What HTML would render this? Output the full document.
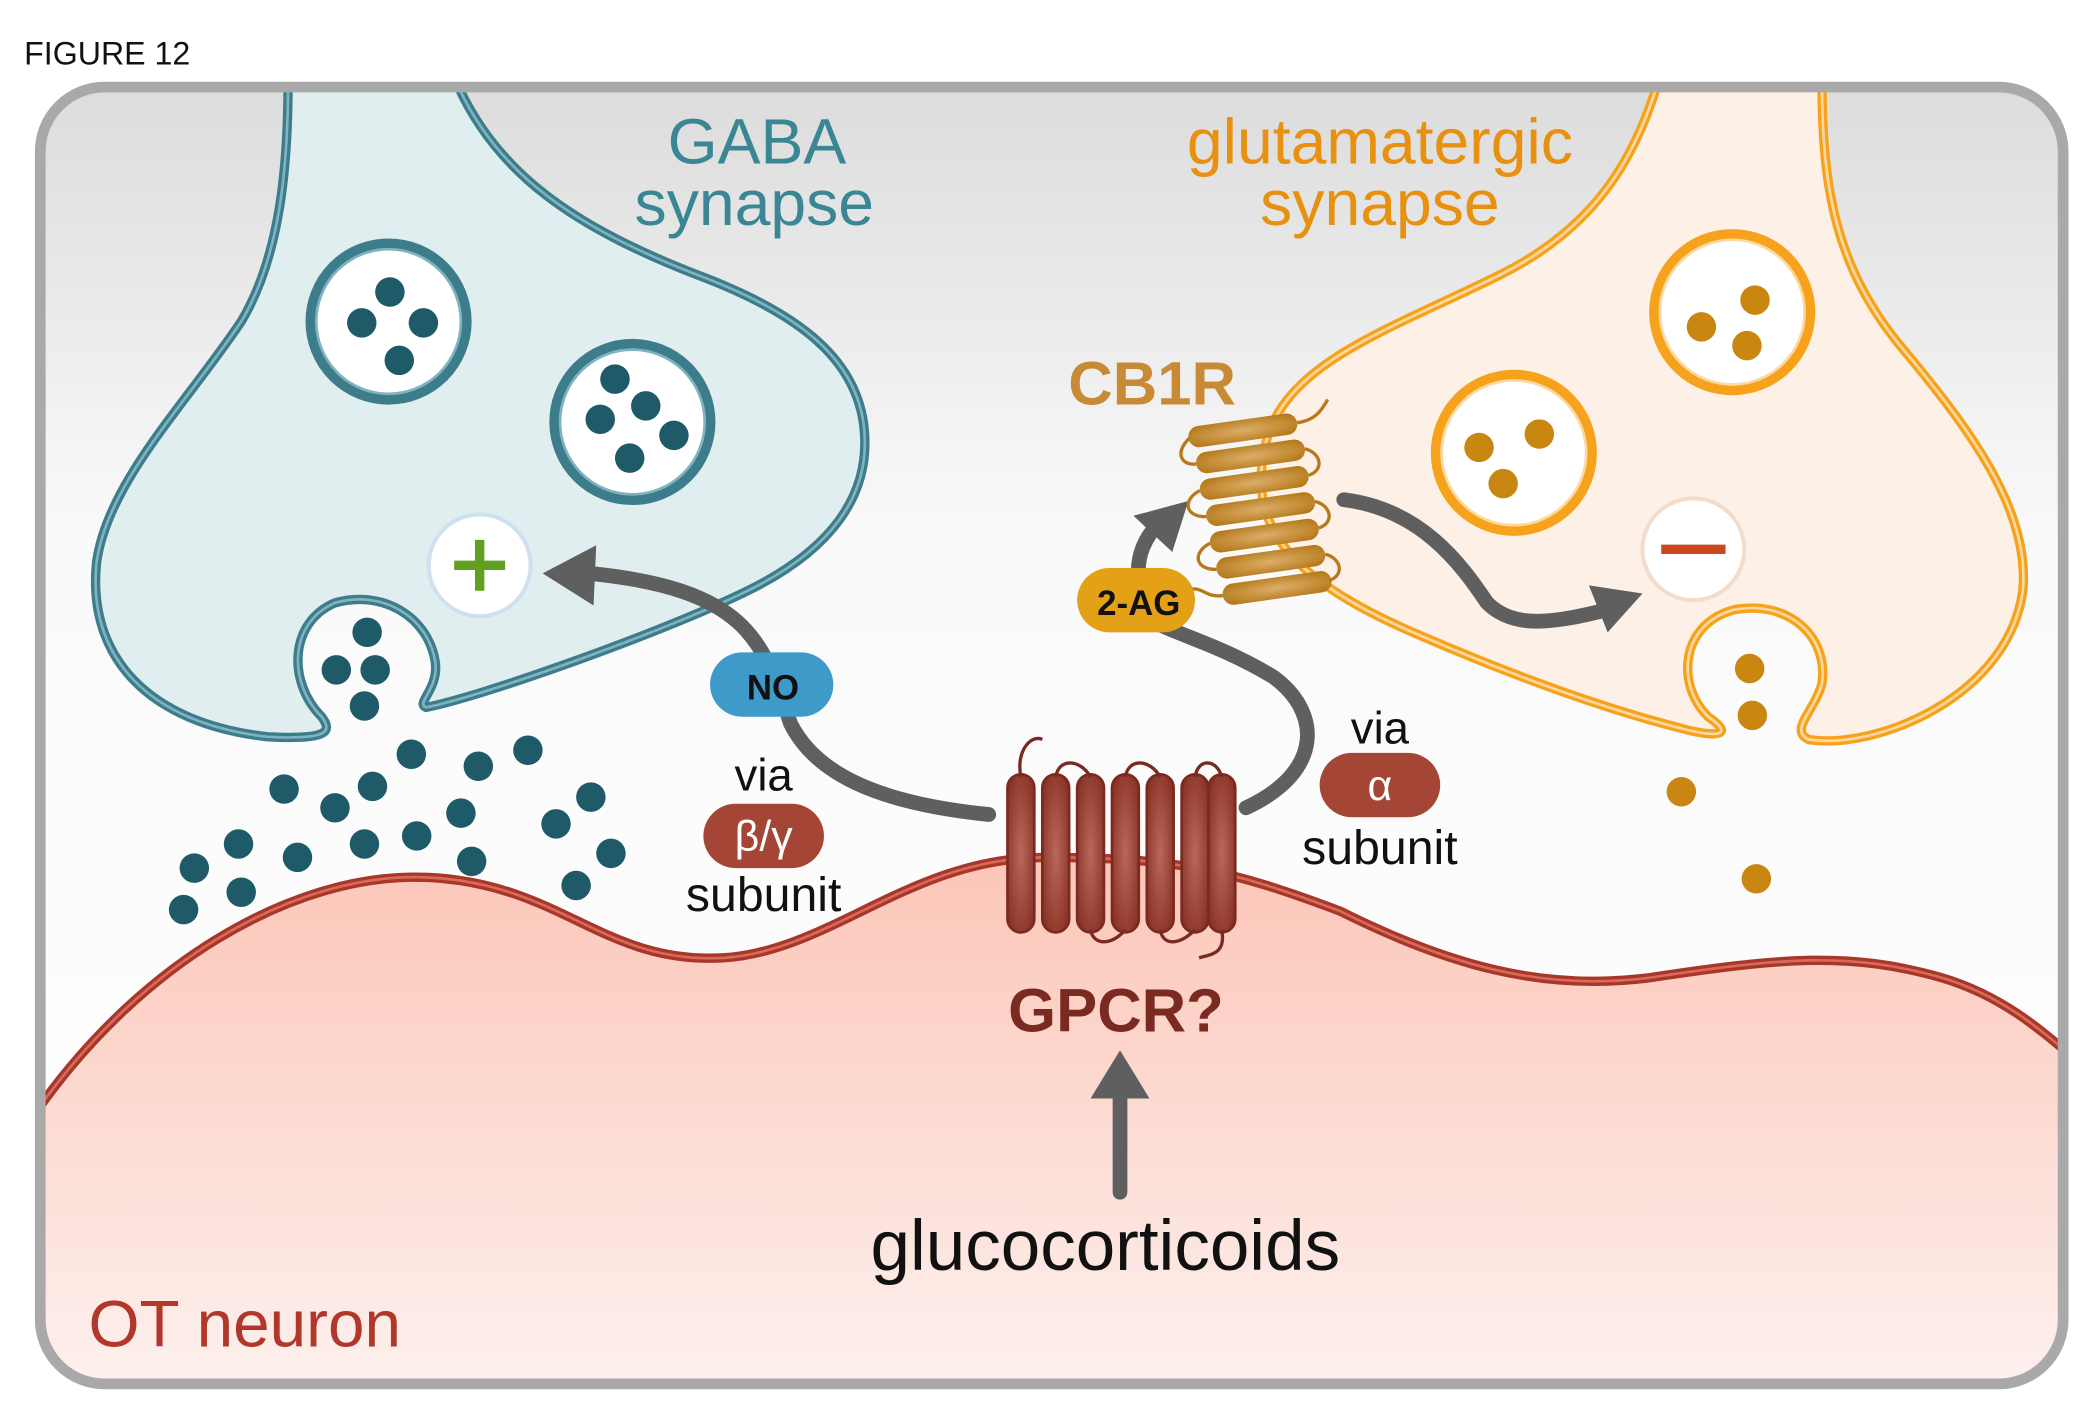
<!DOCTYPE html>
<html><head><meta charset="utf-8"><style>html,body{margin:0;padding:0;background:#fff}svg{display:block}text{font-family:"Liberation Sans",Arial,sans-serif}</style></head>
<body>
<svg width="2090" height="1412" viewBox="0 0 1560 1054" xmlns="http://www.w3.org/2000/svg">
<defs>
<linearGradient id="bg" x1="0" y1="0" x2="0" y2="1"><stop offset="0" stop-color="#dcdcdc"/><stop offset="0.35" stop-color="#fafafa"/><stop offset="1" stop-color="#ffffff"/></linearGradient>
<linearGradient id="ot" x1="0" y1="0" x2="0" y2="1"><stop offset="0" stop-color="#fcc6b8"/><stop offset="1" stop-color="#fdf3f1"/></linearGradient>
<radialGradient id="bar" cx="0.5" cy="0.5" r="0.6"><stop offset="0" stop-color="#b9685c"/><stop offset="1" stop-color="#8a3226"/></radialGradient>
<radialGradient id="cb" cx="0.5" cy="0.5" r="0.6"><stop offset="0" stop-color="#dcae68"/><stop offset="1" stop-color="#b67a1c"/></radialGradient>
<clipPath id="fr"><rect x="30" y="65" width="1510" height="968" rx="48"/></clipPath>
</defs>
<rect width="1560" height="1054" fill="#fff"/>
<text x="18" y="48" font-size="24" fill="#111">FIGURE 12</text>
<g clip-path="url(#fr)">
<rect x="30" y="65" width="1510" height="968" fill="url(#bg)"/>
<path d="M20,840 C100,720 220,650 320,655 C420,660 450,720 540,715 C620,710 680,640 780,640 C880,640 920,650 1000,680 C1080,720 1150,740 1230,730 C1330,715 1380,710 1450,730 C1500,745 1530,775 1560,800 L1560,1060 L20,1060 Z" fill="url(#ot)" stroke="#a8372b" stroke-width="7"/>
<path d="M20,840 C100,720 220,650 320,655 C420,660 450,720 540,715 C620,710 680,640 780,640 C880,640 920,650 1000,680 C1080,720 1150,740 1230,730 C1330,715 1380,710 1450,730 C1500,745 1530,775 1560,800" fill="none" stroke="#d76a58" stroke-width="2"/>
<path d="M215,60 C215,120 210,190 180,240 C140,300 80,360 72,420 C65,490 110,540 200,550 C240,552 250,548 240,535 C215,510 215,465 250,450 C285,440 320,460 325,495 C327,515 310,525 318,528 C360,520 500,470 560,440 C620,410 650,370 645,320 C640,270 600,235 520,205 C430,170 370,130 340,60 Z" fill="#e1eeef" stroke="#3d7c8b" stroke-width="7"/>
<path d="M215,60 C215,120 210,190 180,240 C140,300 80,360 72,420 C65,490 110,540 200,550 C240,552 250,548 240,535 C215,510 215,465 250,450 C285,440 320,460 325,495 C327,515 310,525 318,528 C360,520 500,470 560,440 C620,410 650,370 645,320 C640,270 600,235 520,205 C430,170 370,130 340,60" fill="none" stroke="#7fb3bf" stroke-width="2"/>
<path d="M1238,60 C1220,120 1190,170 1120,205 C1040,245 960,270 945,330 C930,390 960,430 1050,470 C1130,505 1200,530 1260,545 C1290,552 1290,545 1275,535 C1250,510 1255,465 1295,455 C1335,448 1365,475 1360,510 C1355,530 1335,545 1350,552 C1400,560 1500,520 1510,440 C1515,380 1470,320 1420,260 C1370,200 1360,140 1360,60 Z" fill="#fdf0e6" stroke="#f7a21d" stroke-width="7"/>
<path d="M1238,60 C1220,120 1190,170 1120,205 C1040,245 960,270 945,330 C930,390 960,430 1050,470 C1130,505 1200,530 1260,545 C1290,552 1290,545 1275,535 C1250,510 1255,465 1295,455 C1335,448 1365,475 1360,510 C1355,530 1335,545 1350,552 C1400,560 1500,520 1510,440 C1515,380 1470,320 1420,260 C1370,200 1360,140 1360,60" fill="none" stroke="#fcd9a0" stroke-width="2"/>
</g>
<rect x="30" y="65" width="1510" height="968" rx="48" fill="none" stroke="#a9a9a9" stroke-width="8"/>
<g stroke="#3d7c8b" stroke-width="8" fill="#fff">
<circle cx="290" cy="240" r="58"/><circle cx="472" cy="315" r="58"/></g>
<g stroke="#7fb3bf" stroke-width="2" fill="none"><circle cx="290" cy="240" r="54"/><circle cx="472" cy="315" r="54"/></g>
<g fill="#1f5a68">
<circle cx="291" cy="218" r="11"/><circle cx="270" cy="241" r="11"/><circle cx="316" cy="241" r="11"/><circle cx="298" cy="269" r="11"/>
<circle cx="459" cy="283" r="11"/><circle cx="448" cy="313" r="11"/><circle cx="482" cy="303" r="11"/><circle cx="503" cy="325" r="11"/><circle cx="470" cy="342" r="11"/>
<circle cx="274" cy="472" r="11"/><circle cx="251" cy="500" r="11"/><circle cx="280" cy="500" r="11"/><circle cx="272" cy="527" r="11"/>
<circle cx="307" cy="563" r="11"/><circle cx="357" cy="572" r="11"/><circle cx="394" cy="560" r="11"/><circle cx="212" cy="589" r="11"/><circle cx="278" cy="587" r="11"/><circle cx="250" cy="603" r="11"/><circle cx="344" cy="607" r="11"/><circle cx="441" cy="595" r="11"/><circle cx="415" cy="615" r="11"/><circle cx="178" cy="630" r="11"/><circle cx="222" cy="640" r="11"/><circle cx="272" cy="630" r="11"/><circle cx="311" cy="624" r="11"/><circle cx="352" cy="643" r="11"/><circle cx="456" cy="637" r="11"/><circle cx="145" cy="648" r="11"/><circle cx="180" cy="666" r="11"/><circle cx="137" cy="679" r="11"/><circle cx="430" cy="661" r="11"/>
</g>
<g stroke="#f7a21d" stroke-width="8" fill="#fff"><circle cx="1293" cy="233" r="58"/><circle cx="1130" cy="338" r="58"/></g>
<g stroke="#fcd9a0" stroke-width="2" fill="none"><circle cx="1293" cy="233" r="54"/><circle cx="1130" cy="338" r="54"/></g>
<g fill="#c98712">
<circle cx="1310" cy="224" r="11"/><circle cx="1270" cy="244" r="11"/><circle cx="1304" cy="258" r="11"/>
<circle cx="1104" cy="334" r="11"/><circle cx="1149" cy="324" r="11"/><circle cx="1122" cy="361" r="11"/>
<circle cx="1306" cy="499" r="11"/><circle cx="1308" cy="534" r="11"/><circle cx="1255" cy="591" r="11"/><circle cx="1311" cy="656" r="11"/>
</g>
<text x="565" y="122" font-size="48" fill="#3b8694" text-anchor="middle">GABA</text>
<text x="563" y="168" font-size="48" fill="#3b8694" text-anchor="middle">synapse</text>
<text x="1030" y="122" font-size="48" fill="#e8900f" text-anchor="middle">glutamatergic</text>
<text x="1030" y="168" font-size="48" fill="#e8900f" text-anchor="middle">synapse</text>
<text x="860" y="302" font-size="46" font-weight="bold" fill="#c98a35" text-anchor="middle">CB1R</text>
<circle cx="358" cy="422" r="38" fill="#fff" stroke="#cfe0f0" stroke-width="3"/>
<path d="M358,403 V441 M339,422 H377" stroke="#5fa11e" stroke-width="7"/>
<circle cx="1264" cy="410" r="38" fill="#fff" stroke="#f3dccb" stroke-width="3"/>
<path d="M1240,410 H1288" stroke="#c9481d" stroke-width="7"/>
<g fill="none" stroke="#5f5f5f" stroke-width="11" stroke-linecap="round">
<path d="M738,608 C660,600 610,580 590,540 C570,480 560,440 440,428"/>
<path d="M930,603 C990,575 985,530 950,505 C900,475 860,470 850,455"/>
<path d="M850,432 C848,415 855,400 866,390"/>
<path d="M1003,373 C1060,380 1090,420 1110,450 C1130,470 1160,465 1200,455"/>
<path d="M836,890 V815"/>
</g>
<g fill="#5f5f5f">
<polygon points="405,428 445,407 443,452"/>
<polygon points="887,374 846,385 875,412"/>
<polygon points="1226,443 1186,437 1200,472"/>
<polygon points="836,784 814,820 858,820"/>
</g>
<g transform="rotate(-8 940 366)">
<g fill="url(#cb)">
<rect x="893" y="312" width="82" height="16" rx="8"/><rect x="896" y="332" width="82" height="16" rx="8"/><rect x="896" y="352" width="82" height="16" rx="8"/><rect x="898" y="372" width="82" height="16" rx="8"/><rect x="898" y="392" width="82" height="16" rx="8"/><rect x="900" y="412" width="82" height="16" rx="8"/><rect x="902" y="432" width="82" height="16" rx="8"/>
</g>
<path d="M975,320 C990,320 995,312 1000,306 M894,320 C880,330 886,340 896,340 M978,340 C990,345 990,358 978,360 M896,360 C882,365 882,378 898,380 M980,380 C992,385 992,398 980,400 M898,400 C884,405 884,418 900,420 M982,420 C994,425 994,438 982,440 M902,440 C890,440 888,432 880,432" fill="none" stroke="#b67a1c" stroke-width="2.5"/>
</g>
<g fill="url(#bar)" stroke="#7a2a20" stroke-width="2">
<rect x="752" y="578" width="20" height="118" rx="10"/><rect x="778" y="578" width="20" height="118" rx="10"/><rect x="804" y="578" width="20" height="118" rx="10"/><rect x="830" y="578" width="20" height="118" rx="10"/><rect x="856" y="578" width="20" height="118" rx="10"/><rect x="882" y="578" width="20" height="118" rx="10"/><rect x="902" y="578" width="20" height="118" rx="10"/>
</g>
<path d="M762,580 C758,560 770,548 778,552 M788,580 C790,566 806,566 814,580 M840,580 C842,566 858,566 866,580 M892,580 C894,566 908,566 912,580 M814,694 C816,706 830,706 840,694 M866,694 C868,706 880,706 892,694 M912,694 C915,712 905,712 895,715" fill="none" stroke="#7a2a20" stroke-width="2.5"/>
<text x="833" y="770" font-size="46" font-weight="bold" fill="#7a2a20" text-anchor="middle">GPCR?</text>
<rect x="530" y="487" width="92" height="48" rx="24" fill="#3d9ac9"/>
<text x="577" y="522" font-size="26" font-weight="bold" fill="#111" text-anchor="middle">NO</text>
<rect x="804" y="424" width="88" height="48" rx="24" fill="#e4a016"/>
<text x="850" y="459" font-size="26" font-weight="bold" fill="#111" text-anchor="middle">2-AG</text>
<text x="570" y="590" font-size="34" fill="#111" text-anchor="middle">via</text>
<rect x="525" y="600" width="90" height="48" rx="24" fill="#a54535"/>
<text x="570" y="635" font-size="32" fill="#fff" text-anchor="middle">β/γ</text>
<text x="570" y="680" font-size="36" fill="#111" text-anchor="middle">subunit</text>
<text x="1030" y="555" font-size="34" fill="#111" text-anchor="middle">via</text>
<rect x="985" y="562" width="90" height="48" rx="24" fill="#a54535"/>
<text x="1030" y="597" font-size="32" fill="#fff" text-anchor="middle">α</text>
<text x="1030" y="645" font-size="36" fill="#111" text-anchor="middle">subunit</text>
<text x="825" y="948" font-size="53" fill="#111" text-anchor="middle">glucocorticoids</text>
<text x="66" y="1005" font-size="49" fill="#b0372a">OT neuron</text>
</svg>
</body></html>
